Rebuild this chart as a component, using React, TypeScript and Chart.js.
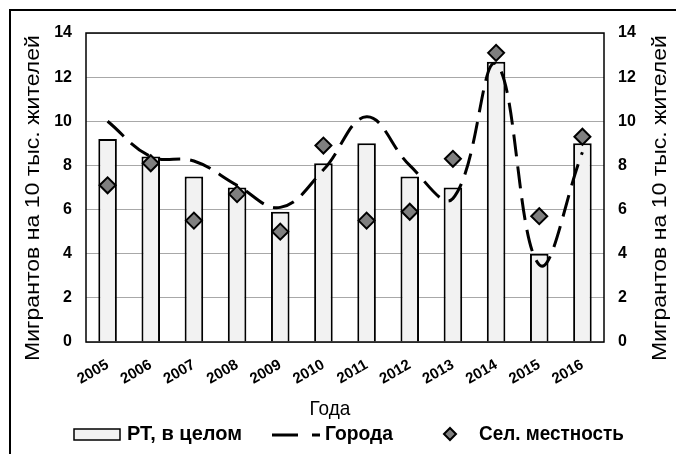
import React, { useEffect, useRef } from "react";
import { Chart, registerables } from "chart.js";

Chart.register(...registerables);

const years = ["2005", "2006", "2007", "2008", "2009", "2010", "2011", "2012", "2013", "2014", "2015", "2016"];
const rtTotal = [9.2, 8.4, 7.5, 7.0, 5.9, 8.1, 9.0, 7.5, 7.0, 12.7, 4.0, 9.0];
const cities = [10.0, 8.4, 8.2, 7.1, 6.1, 7.8, 10.2, 8.0, 6.5, 12.6, 3.5, 8.6];
const rural = [7.1, 8.1, 5.5, 6.7, 5.0, 8.9, 5.5, 5.9, 8.3, 13.1, 5.7, 9.3];
const yMin = 0;
const yMax = 14;
const yStep = 2;
const seriesNames = ["РТ, в целом", "Города", "Сел. местность"];
const yTitle = "Мигрантов на 10 тыс. жителей";
const xTitle = "Года";

const FONT = "'Liberation Sans', Arial, sans-serif";
const BAR_FILL = "#f2f2f2";
const DIAMOND_FILL = "#7f7f7f";

const decorPlugin = {
  id: "decor",
  afterDraw(chart: any) {
    const ctx = chart.ctx as CanvasRenderingContext2D;
    const a = chart.chartArea;
    ctx.save();
    // outer frame (top & left)
    ctx.strokeStyle = "#000";
    ctx.lineWidth = 2;
    ctx.beginPath();
    ctx.moveTo(10, 454);
    ctx.lineTo(10, 10);
    ctx.lineTo(676, 10);
    ctx.stroke();
    // plot border
    ctx.lineWidth = 1.5;
    ctx.strokeRect(a.left, a.top, a.right - a.left, a.bottom - a.top);

    // axis titles
    ctx.fillStyle = "#000";
    ctx.font = `20px ${FONT}`;
    ctx.textAlign = "center";
    ctx.textBaseline = "middle";
    const cy = 198;
    const w = ctx.measureText(yTitle).width;
    const sx = 326 / w;
    for (const cx of [33, 660]) {
      ctx.save();
      ctx.translate(cx, cy);
      ctx.rotate(-Math.PI / 2);
      ctx.scale(sx, 1);
      ctx.fillText(yTitle, 0, 0);
      ctx.restore();
    }
    ctx.save();
    ctx.translate(330, 409);
    ctx.scale(1, 1.1);
    ctx.font = `19px ${FONT}`;
    ctx.fillText(xTitle, 0, 0);
    ctx.restore();

    // legend
    const ly = 435;
    ctx.font = `bold 19px ${FONT}`;
    ctx.textAlign = "left";
    ctx.textBaseline = "middle";
    ctx.fillStyle = BAR_FILL;
    ctx.fillRect(74, 429, 46, 11);
    ctx.strokeStyle = "#000";
    ctx.lineWidth = 1.5;
    ctx.strokeRect(74, 429, 46, 11);
    ctx.fillStyle = "#000";
    const drawText = (t: string, x: number, target: number) => {
      const tw = ctx.measureText(t).width;
      ctx.save();
      ctx.translate(x, ly);
      ctx.scale(target / tw, 1.05);
      ctx.fillText(t, 0, 0);
      ctx.restore();
    };
    drawText(seriesNames[0], 127, 115);

    ctx.lineWidth = 3;
    ctx.beginPath();
    ctx.moveTo(272, ly);
    ctx.lineTo(298, ly);
    ctx.moveTo(312, ly);
    ctx.lineTo(320, ly);
    ctx.stroke();
    drawText(seriesNames[1], 325, 68);

    ctx.beginPath();
    const dx = 450, dy = 434, r = 6;
    ctx.moveTo(dx - r, dy);
    ctx.lineTo(dx, dy - r);
    ctx.lineTo(dx + r, dy);
    ctx.lineTo(dx, dy + r);
    ctx.closePath();
    ctx.fillStyle = DIAMOND_FILL;
    ctx.fill();
    ctx.lineWidth = 2;
    ctx.stroke();
    ctx.fillStyle = "#000";
    drawText(seriesNames[2], 479, 145);
    ctx.restore();
  },
};

export default function App() {
  const ref = useRef<HTMLCanvasElement | null>(null);
  useEffect(() => {
    if (!ref.current) return;
    const tickFont = { family: FONT, size: 16, weight: "bold" as const };
    const chart = new Chart(ref.current, {
      type: "bar",
      data: {
        labels: years,
        datasets: [
          {
            type: "line" as const,
            label: seriesNames[2],
            data: rural,
            showLine: false,
            pointStyle: "rectRot",
            pointRadius: 8,
            pointBackgroundColor: DIAMOND_FILL,
            pointBorderColor: "#000",
            pointBorderWidth: 2,
            order: 1,
          },
          {
            type: "line" as const,
            label: seriesNames[1],
            data: cities,
            borderColor: "#000",
            borderWidth: 3,
            borderDash: [22, 10],
            tension: 0.4,
            pointRadius: 0,
            fill: false,
            order: 2,
          },
          {
            type: "bar" as const,
            label: seriesNames[0],
            data: rtTotal,
            backgroundColor: BAR_FILL,
            borderColor: "#000",
            borderWidth: 2,
            barPercentage: 0.43,
            categoryPercentage: 1,
            order: 3,
          },
        ] as any,
      },
      options: {
        responsive: false,
        animation: false,
        layout: { padding: { top: 33, left: 0, right: 0, bottom: 0 } },
        plugins: { legend: { display: false }, tooltip: { enabled: false } },
        scales: {
          x: {
            grid: { display: false },
            border: { display: false },
            ticks: { font: { family: FONT, size: 15, weight: "bold" }, color: "#000", minRotation: 30, maxRotation: 30, padding: 6 },
            afterFit: (s: any) => { s.height = 112; },
          },
          y: {
            min: yMin,
            max: yMax,
            ticks: { stepSize: yStep, font: tickFont, color: "#000", padding: 14 },
            grid: { color: "#a8a8a8", lineWidth: 1, drawTicks: false },
            border: { display: false },
            afterFit: (s: any) => { s.width = 86; },
          },
          y2: {
            position: "right",
            min: yMin,
            max: yMax,
            ticks: { stepSize: yStep, font: tickFont, color: "#000", padding: 14 },
            grid: { drawOnChartArea: false, drawTicks: false },
            border: { display: false },
            afterFit: (s: any) => { s.width = 72; },
          },
        } as any,
      },
      plugins: [decorPlugin],
    });
    return () => chart.destroy();
  }, []);
  return (
    <div style={{ position: "absolute", left: 0, top: 0, width: 676, height: 454, background: "#fff" }}>
      <canvas ref={ref} width={676} height={454} style={{ display: "block" }} />
    </div>
  );
}
